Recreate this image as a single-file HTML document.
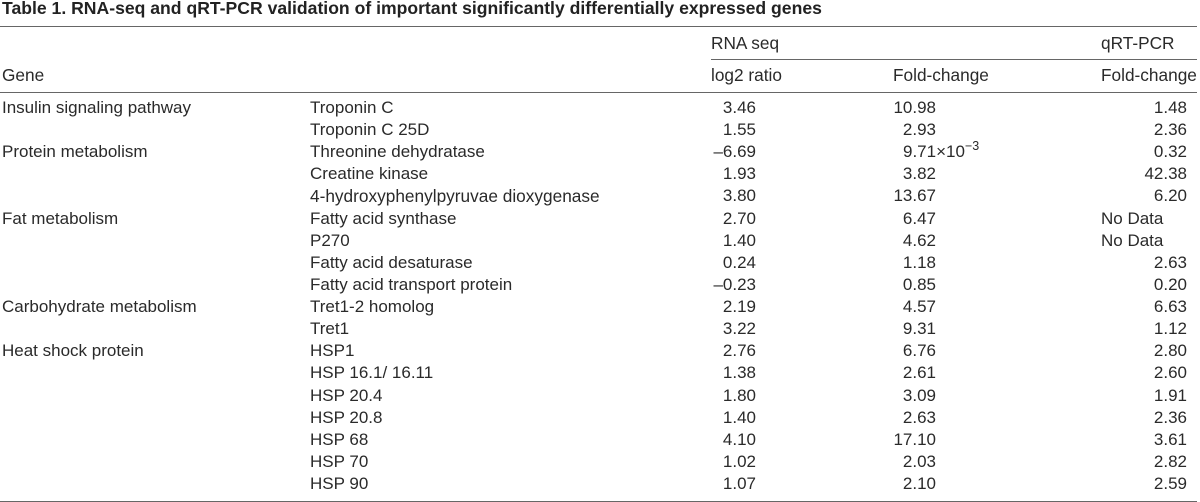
<!DOCTYPE html>
<html lang="en">
<head>
<meta charset="utf-8">
<title>Table 1</title>
<style>
html,body{margin:0;padding:0;background:#fff}
#page{position:relative;width:1200px;height:502px;overflow:hidden;background:#fff;color:#2a2a2a;font-family:"Liberation Sans",Arial,sans-serif;font-size:17.25px;line-height:22px;filter:blur(.3px)}
#title{position:absolute;left:2px;top:-1px;font-weight:bold;font-size:17.6px;line-height:18px;color:#222;white-space:nowrap}
.rule{position:absolute;height:1px;background:#666}
.head{position:absolute;white-space:nowrap;line-height:22px}
.row{position:absolute;left:0;width:1200px;height:22px;margin-top:1px;font-size:17px}
.row span{position:absolute;top:0;white-space:nowrap}
.cat{left:2px}
.gene{left:310px}
.log{right:444px}
.fold{right:264px}
.qrt{right:13px}
.nodata{left:1101px}
sup{font-size:12.5px;line-height:0;vertical-align:7px}
</style>
</head>
<body>
<div id="page">
<div id="title">Table 1. RNA-seq and qRT-PCR validation of important significantly differentially expressed genes</div>
<div class="rule" style="left:0;width:1197px;top:26px"></div>
<div class="head" style="left:711px;top:32px">RNA seq</div>
<div class="head" style="left:1101px;top:32px">qRT-PCR</div>
<div class="rule" style="left:711px;width:486px;top:59px"></div>
<div class="head" style="left:2px;top:64px">Gene</div>
<div class="head" style="left:711px;top:64px">log2 ratio</div>
<div class="head" style="left:893px;top:64px">Fold-change</div>
<div class="head" style="left:1101px;top:64px">Fold-change</div>
<div class="rule" style="left:0;width:1197px;top:92px"></div>

<div class="row" style="top:96px"><span class="cat">Insulin signaling pathway</span><span class="gene">Troponin C</span><span class="log">3.46</span><span class="fold">10.98</span><span class="qrt">1.48</span></div>
<div class="row" style="top:118.12px"><span class="gene">Troponin C 25D</span><span class="log">1.55</span><span class="fold">2.93</span><span class="qrt">2.36</span></div>
<div class="row" style="top:140.24px"><span class="cat">Protein metabolism</span><span class="gene">Threonine dehydratase</span><span class="log">–6.69</span><span style="left:903px">9.71×10<sup>−3</sup></span><span class="qrt">0.32</span></div>
<div class="row" style="top:162.36px"><span class="gene">Creatine kinase</span><span class="log">1.93</span><span class="fold">3.82</span><span class="qrt">42.38</span></div>
<div class="row" style="top:184.48px"><span class="gene" style="font-size:17.25px">4-hydroxyphenylpyruvae dioxygenase</span><span class="log">3.80</span><span class="fold">13.67</span><span class="qrt">6.20</span></div>
<div class="row" style="top:206.6px"><span class="cat">Fat metabolism</span><span class="gene">Fatty acid synthase</span><span class="log">2.70</span><span class="fold">6.47</span><span class="nodata">No Data</span></div>
<div class="row" style="top:228.72px"><span class="gene">P270</span><span class="log">1.40</span><span class="fold">4.62</span><span class="nodata">No Data</span></div>
<div class="row" style="top:250.84px"><span class="gene">Fatty acid desaturase</span><span class="log">0.24</span><span class="fold">1.18</span><span class="qrt">2.63</span></div>
<div class="row" style="top:272.96px"><span class="gene">Fatty acid transport protein</span><span class="log">–0.23</span><span class="fold">0.85</span><span class="qrt">0.20</span></div>
<div class="row" style="top:295.08px"><span class="cat">Carbohydrate metabolism</span><span class="gene">Tret1-2 homolog</span><span class="log">2.19</span><span class="fold">4.57</span><span class="qrt">6.63</span></div>
<div class="row" style="top:317.2px"><span class="gene">Tret1</span><span class="log">3.22</span><span class="fold">9.31</span><span class="qrt">1.12</span></div>
<div class="row" style="top:339.32px"><span class="cat">Heat shock protein</span><span class="gene">HSP1</span><span class="log">2.76</span><span class="fold">6.76</span><span class="qrt">2.80</span></div>
<div class="row" style="top:361.44px"><span class="gene">HSP 16.1/ 16.11</span><span class="log">1.38</span><span class="fold">2.61</span><span class="qrt">2.60</span></div>
<div class="row" style="top:383.56px"><span class="gene">HSP 20.4</span><span class="log">1.80</span><span class="fold">3.09</span><span class="qrt">1.91</span></div>
<div class="row" style="top:405.68px"><span class="gene">HSP 20.8</span><span class="log">1.40</span><span class="fold">2.63</span><span class="qrt">2.36</span></div>
<div class="row" style="top:427.8px"><span class="gene">HSP 68</span><span class="log">4.10</span><span class="fold">17.10</span><span class="qrt">3.61</span></div>
<div class="row" style="top:449.92px"><span class="gene">HSP 70</span><span class="log">1.02</span><span class="fold">2.03</span><span class="qrt">2.82</span></div>
<div class="row" style="top:472.04px"><span class="gene">HSP 90</span><span class="log">1.07</span><span class="fold">2.10</span><span class="qrt">2.59</span></div>
<div class="rule" style="left:0;width:1197px;top:501px"></div>
</div>
</body>
</html>
